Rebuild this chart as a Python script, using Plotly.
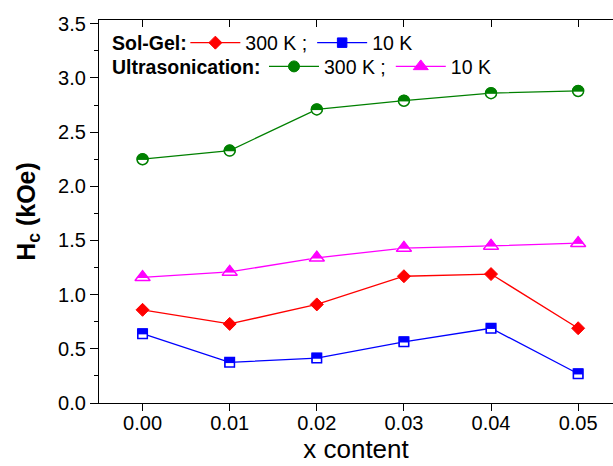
import plotly.graph_objects as go

# ---------------- data ----------------
x_content = [0.00, 0.01, 0.02, 0.03, 0.04, 0.05]
x_tick_labels = ["0.00", "0.01", "0.02", "0.03", "0.04", "0.05"]

solgel_300K = [0.86, 0.73, 0.91, 1.17, 1.19, 0.69]
solgel_10K = [0.64, 0.375, 0.415, 0.565, 0.69, 0.27]
ultra_300K = [2.25, 2.33, 2.71, 2.79, 2.86, 2.88]
ultra_10K = [1.16, 1.21, 1.34, 1.43, 1.45, 1.475]

y_tick_vals = [0.0, 0.5, 1.0, 1.5, 2.0, 2.5, 3.0, 3.5]
y_tick_labels = ["0.0", "0.5", "1.0", "1.5", "2.0", "2.5", "3.0", "3.5"]
y_minor_vals = [0.25, 0.75, 1.25, 1.75, 2.25, 2.75, 3.25]

# ---------------- style ----------------
FONT = "Liberation Sans, Arial, sans-serif"
W, H = 613, 466
ML, MR, MT, MB = 99, 0, 20, 63
X_RANGE = [-0.005, 0.054]
Y_RANGE = [0.0, 3.535]
px_per_unit = (H - MT - MB) / (Y_RANGE[1] - Y_RANGE[0])
shift_px = 3.3
dy = shift_px / px_per_unit          # shift of the "white mask" layer (pixels -> data units)
Y2_RANGE = [Y_RANGE[0] + dy, Y_RANGE[1] + dy]

RED, BLUE, GREEN, MAGENTA = "#FF0000", "#0000FF", "#008000", "#FF00FF"
LW = 1.3

series = [
    # name, values, color, symbol, size, half-filled, legend
    ("300 K ;", solgel_300K, RED, "diamond", 10, False, "legend"),
    ("10 K", solgel_10K, BLUE, "square", 9.5, True, "legend"),
    ("300 K ;", ultra_300K, GREEN, "circle", 11, True, "legend2"),
    ("10 K", ultra_10K, MAGENTA, "triangle-up", 13, True, "legend2"),
]
mask_width = {"square": 9.0, "circle": 10.5, "triangle-up": 15.0}

fig = go.Figure()

# main layer: lines + filled markers (these give the legend entries)
for name, vals, col, sym, size, half, leg in series:
    fig.add_trace(go.Scatter(
        x=x_content, y=vals, mode="lines+markers", name=name,
        line=dict(color=col, width=LW),
        marker=dict(symbol=sym, size=size, color=col, line=dict(color=col, width=1)),
        legend=leg, showlegend=True, hoverinfo="skip",
    ))

# mask layer: white bars hiding the lower half of the half-filled markers
for name, vals, col, sym, size, half, leg in series:
    if not half:
        continue
    fig.add_trace(go.Scatter(
        x=x_content, y=vals, mode="markers", xaxis="x2", yaxis="y2",
        marker=dict(symbol="line-ew", size=mask_width[sym] / 1.4, color="white",
                    line=dict(color="white", width=5.2)),
        showlegend=False, hoverinfo="skip",
    ))

# outline layer
for name, vals, col, sym, size, half, leg in series:
    if not half:
        continue
    fig.add_trace(go.Scatter(
        x=x_content, y=vals, mode="markers", xaxis="x2", yaxis="y3",
        marker=dict(symbol=sym + "-open", size=size, color=col, line=dict(color=col, width=1.5)),
        showlegend=False, hoverinfo="skip",
    ))

axis_common = dict(showgrid=False, zeroline=False, linecolor="black", linewidth=LW,
                   tickcolor="black", tickwidth=LW)

legend_common = dict(orientation="h", xanchor="left", yanchor="middle",
                     bgcolor="rgba(0,0,0,0)", borderwidth=0, itemwidth=50,
                     font=dict(family=FONT, size=19.5, color="black"),
                     itemclick=False, itemdoubleclick=False, tracegroupgap=0)

fig.update_layout(
    width=W, height=H,
    margin=dict(l=ML, r=MR, t=MT, b=MB, pad=0),
    paper_bgcolor="white", plot_bgcolor="white",
    font=dict(family=FONT, color="black"),
    xaxis=dict(range=X_RANGE, tickmode="array", tickvals=x_content, ticktext=x_tick_labels,
               ticks="outside", ticklen=7, showline=True, mirror=False,
               tickfont=dict(size=20), automargin=False, ticklabelstandoff=-5,
               title=dict(text="x content", font=dict(size=26), standoff=4),
               **axis_common),
    xaxis2=dict(range=X_RANGE, overlaying="x", side="top", anchor="y",
                tickmode="array", tickvals=x_content, ticks="inside", ticklen=7,
                showticklabels=False, showline=True, **axis_common),
    yaxis=dict(range=Y_RANGE, tickmode="array", tickvals=y_tick_vals, ticktext=y_tick_labels,
               ticks="outside", ticklen=8, showline=True, mirror=False,
               minor=dict(tickmode="array", tickvals=y_minor_vals, ticks="outside",
                          ticklen=4, tickcolor="black", tickwidth=LW),
               tickfont=dict(size=20), automargin=False,
               title=dict(text="<b>H<sub>c</sub> (kOe)</b>", font=dict(size=25), standoff=15),
               **axis_common),
    yaxis2=dict(range=Y2_RANGE, overlaying="y", visible=False, showgrid=False, zeroline=False),
    yaxis3=dict(range=Y_RANGE, overlaying="y", visible=False, showgrid=False, zeroline=False),
    legend=dict(x=0.168, y=0.94, **legend_common),
    legend2=dict(x=0.321, y=0.878, **legend_common),
    showlegend=True,
)

fig.add_annotation(text="<b>Sol-Gel:</b>", xref="paper", yref="paper", x=0.0214, y=0.94,
                   xanchor="left", yanchor="middle", showarrow=False,
                   font=dict(family=FONT, size=19.5, color="black"))
fig.add_annotation(text="<b>Ultrasonication:</b>", xref="paper", yref="paper", x=0.0214, y=0.878,
                   xanchor="left", yanchor="middle", showarrow=False,
                   font=dict(family=FONT, size=19.5, color="black"))

fig.write_html("out.html")
